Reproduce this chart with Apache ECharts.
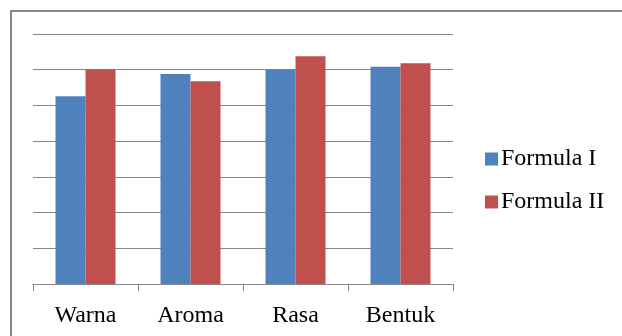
<!DOCTYPE html>
<html>
<head>
<meta charset="utf-8">
<script src="https://cdn.jsdelivr.net/npm/echarts@6/dist/echarts.min.js"></script>
<style>html,body{margin:0;padding:0;background:#fff;}#c{width:622px;height:336px;}</style>
</head>
<body>
<div id="c"></div>
<script>
var categories = ['Warna', 'Aroma', 'Rasa', 'Bentuk'];
var formula1 = [2.63, 2.94, 3.0, 3.04];
var formula2 = [3.0, 2.84, 3.19, 3.09];
var seriesNames = ['Formula I', 'Formula II'];

var chart = echarts.init(document.getElementById('c'), null, {renderer: 'canvas'});
var font = '"Liberation Serif", "Times New Roman", serif';
chart.setOption({
  animation: false,
  backgroundColor: '#ffffff',
  graphic: [{
    type: 'rect', silent: true,
    shape: {x: 11, y: 11, width: 640, height: 360},
    style: {fill: 'none', stroke: '#868686', lineWidth: 2}
  }],
  grid: {left: 33, right: 169, top: 34, bottom: 52},
  legend: {
    orient: 'vertical', left: 480, top: 142,
    itemWidth: 13, itemHeight: 13, itemGap: 19,
    icon: 'rect',
    textStyle: {fontFamily: font, fontSize: 24, color: '#000', padding: [0, 0, 0, -2]},
    data: seriesNames
  },
  xAxis: {
    type: 'category', data: categories,
    axisLine: {lineStyle: {color: '#868686', width: 1}},
    axisTick: {show: true, length: 7, lineStyle: {color: '#868686'}},
    axisLabel: {fontFamily: font, fontSize: 24, color: '#000', margin: 20}
  },
  yAxis: {
    type: 'value', min: 0, max: 3.5, interval: 0.5,
    axisLabel: {show: false}, axisLine: {show: false}, axisTick: {show: false},
    splitLine: {lineStyle: {color: '#868686', width: 1}}
  },
  series: [
    {name: seriesNames[0], type: 'bar', data: formula1, barWidth: 30, barGap: '0%', itemStyle: {color: '#4F81BD'}},
    {name: seriesNames[1], type: 'bar', data: formula2, barWidth: 30, barGap: '0%', itemStyle: {color: '#C0504D'}}
  ]
});
</script>
</body>
</html>
